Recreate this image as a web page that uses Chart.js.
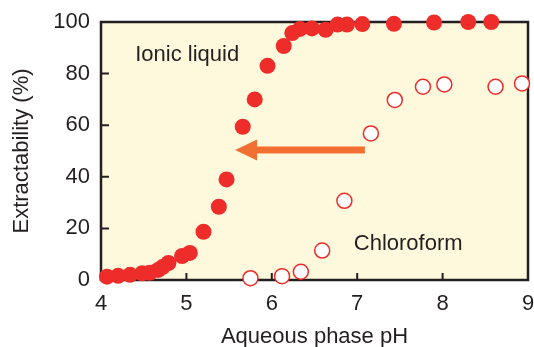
<!DOCTYPE html>
<html>
<head>
<meta charset="utf-8">
<script src="https://cdn.jsdelivr.net/npm/chart.js@4.4.0/dist/chart.umd.min.js"></script>
<style>
  html, body { margin: 0; padding: 0; background: #fff; overflow: hidden; }
</style>
</head>
<body>
<canvas id="myChart" width="534" height="347"></canvas>
<script>
// ionic liquid (filled)
const ionicPH = [4.07, 4.2, 4.34, 4.48, 4.57, 4.67, 4.72, 4.79, 4.95, 5.04, 5.2, 5.38, 5.47, 5.66, 5.8, 5.95, 6.14, 6.24, 6.33, 6.47, 6.63, 6.77, 6.88, 7.06, 7.43, 7.9, 8.3, 8.57]
const ionicVal = [1.3, 1.6, 2, 2.6, 2.8, 3.9, 5, 6.6, 9.3, 10.5, 18.7, 28.4, 39, 59.4, 70, 83, 90.7, 95.7, 97.3, 97.5, 97, 99, 99, 99.2, 99.3, 99.8, 100, 100]
// chloroform (open)
const chloroPH = [5.75, 6.12, 6.34, 6.59, 6.85, 7.16, 7.44, 7.77, 8.02, 8.62, 8.93]
const chloroVal = [0.7, 1.5, 3.2, 11.4, 30.7, 56.8, 69.8, 74.9, 75.8, 74.9, 76.2]

const xTicks = [4, 5, 6, 7, 8, 9]
const yTicks = [0, 20, 40, 60, 80, 100]

// arrow: from tail to tip, in data units
const arrowFrom = [7.09, 50.4]
const arrowTo = [5.57, 50.4]

const labels = [
    { text: "Ionic liquid", x: 4.4, y: 87.2 },
    { text: "Chloroform", x: 6.96, y: 14 }
]

const TXT = "#231f20"
const RED = "#ee2d2a"
const FONT = "'Liberation Sans', Arial, sans-serif"

const toPoints = (xs, ys) => xs.map((x, i) => ({ x: x, y: ys[i] }))

const framePlugin = {
    id: "frame",
    beforeDatasetsDraw(chart) {
        const { ctx, chartArea: a, scales } = chart
        ctx.save()
        ctx.fillStyle = "#fef9dd"
        ctx.fillRect(a.left, a.top, a.right - a.left, a.bottom - a.top)

        // arrow
        const x1 = scales.x.getPixelForValue(arrowFrom[0])
        const y1 = scales.y.getPixelForValue(arrowFrom[1])
        const x2 = scales.x.getPixelForValue(arrowTo[0])
        const y2 = scales.y.getPixelForValue(arrowTo[1])
        ctx.fillStyle = "#f26f32"
        ctx.fillRect(x2 + 20, y1 - 3.5, x1 - x2 - 20, 7)
        ctx.beginPath()
        ctx.moveTo(x2, y2)
        ctx.lineTo(x2 + 22, y2 - 10.5)
        ctx.lineTo(x2 + 22, y2 + 10.5)
        ctx.closePath()
        ctx.fill()

        // frame and inner ticks
        ctx.strokeStyle = "#231f20"
        ctx.lineWidth = 2.5
        ctx.strokeRect(a.left, a.top, a.right - a.left, a.bottom - a.top)
        ctx.lineWidth = 2
        ctx.beginPath()
        xTicks.forEach(t => {
            const px = scales.x.getPixelForValue(t)
            ctx.moveTo(px, a.bottom)
            ctx.lineTo(px, a.bottom - 7)
        })
        yTicks.forEach(t => {
            const py = scales.y.getPixelForValue(t)
            ctx.moveTo(a.left, py)
            ctx.lineTo(a.left + 8, py)
        })
        ctx.stroke()

        // text labels
        ctx.fillStyle = TXT
        ctx.font = "22px " + FONT
        ctx.textBaseline = "middle"
        ctx.textAlign = "left"
        labels.forEach(l => {
            ctx.fillText(l.text, scales.x.getPixelForValue(l.x), scales.y.getPixelForValue(l.y))
        })
        ctx.restore()
    }
}

const config = {
    type: "scatter",
    data: {
        datasets: [
            {
                label: "Chloroform",
                data: toPoints(chloroPH, chloroVal),
                pointRadius: 7.5,
                pointBackgroundColor: "#ffffff",
                pointBorderColor: RED,
                pointBorderWidth: 1.5,
                clip: false
            },
            {
                label: "Ionic liquid",
                data: toPoints(ionicPH, ionicVal),
                pointRadius: 8,
                pointBackgroundColor: RED,
                pointBorderColor: RED,
                pointBorderWidth: 0,
                clip: false
            }
        ]
    },
    options: {
        responsive: false,
        animation: false,
        events: [],
        layout: { autoPadding: false, padding: { left: 0, right: 6, top: 22, bottom: 0 } },
        plugins: { legend: { display: false }, tooltip: { enabled: false } },
        scales: {
            x: {
                type: "linear",
                min: 4, max: 9,
                afterFit: s => { s.height = 67; s.paddingLeft = 0; s.paddingRight = 0 },
                afterBuildTicks: s => { s.ticks = xTicks.map(v => ({ value: v })) },
                grid: { display: false, drawTicks: false },
                border: { display: false },
                ticks: { color: TXT, font: { size: 22, family: FONT }, padding: 11 },
                title: {
                    display: true, text: "Aqueous phase pH", color: TXT,
                    font: { size: 22, family: FONT }, padding: { top: 0, bottom: -3 }
                }
            },
            y: {
                min: 0, max: 100,
                afterFit: s => { s.width = 101; s.paddingTop = 0; s.paddingBottom = 0 },
                afterBuildTicks: s => { s.ticks = yTicks.map(v => ({ value: v })) },
                grid: { display: false, drawTicks: false },
                border: { display: false },
                ticks: { color: TXT, font: { size: 22, family: FONT }, padding: 11 },
                title: {
                    display: true, text: "Extractability (%)", color: TXT,
                    font: { size: 22, family: FONT }, padding: { top: 9, bottom: 0 }
                }
            }
        }
    },
    plugins: [framePlugin]
}

new Chart(document.getElementById("myChart"), config)
</script>
</body>
</html>
